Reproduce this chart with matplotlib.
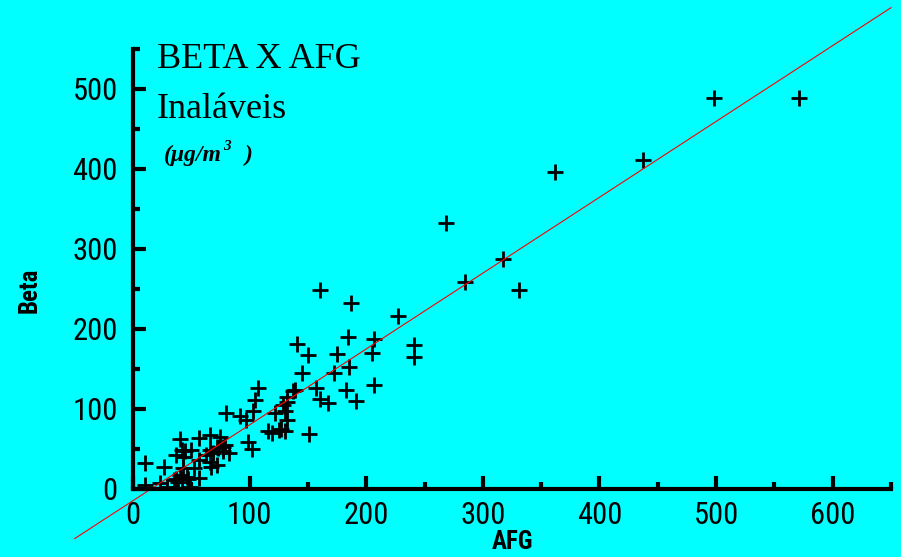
import numpy as np
import matplotlib
matplotlib.use("Agg")
import matplotlib.pyplot as plt
from matplotlib.ticker import MultipleLocator
from matplotlib import font_manager as fm

# AFG (x) and Beta (y) readings, ug/m3
afg = [498, 571, 437, 362, 268, 317, 285, 331, 160, 187, 227, 184, 207, 241, 241,
       141, 150, 175, 205, 145, 172, 185, 107, 105, 103, 139, 157, 183, 207, 160,
       167, 191, 132, 129, 137, 132, 151, 116, 119, 125, 127, 130, 122, 130, 132,
       80, 92, 97, 99, 102, 40, 57, 66, 75, 79, 73, 77, 82, 69, 63,
       42, 45, 50, 37, 43, 66, 72, 77, 10, 27, 57, 66, 72, 67, 52,
       43, 40, 37, 42, 46, 35, 39, 57, 10, 23, 29, 49, 47]
beta = [489, 489, 411, 396, 332, 287, 259, 249, 249, 233, 216, 190, 188, 180, 165,
        181, 168, 169, 170, 145, 145, 152, 126, 111, 97, 124, 126, 124, 130, 113,
        107, 110, 115, 105, 122, 109, 69, 72, 70, 74, 75, 72, 95, 97, 86,
        95, 91, 86, 59, 50, 63, 64, 68, 65, 55, 51, 47, 45, 45, 43,
        49, 47, 49, 43, 40, 49, 53, 53, 33, 27, 36, 34, 30, 28, 26,
        26, 18, 13, 13, 15, 11, 9, 14, 5, 7, 3, 2, 13]

# regression line
slope = 0.948
intercept = -14.6
line_x = np.array([-50, 650])

bg = "#00FFFF"

# look for a narrow sans face, else plain Liberation Sans
names = {f.name for f in fm.fontManager.ttflist}
narrow = "Liberation Sans"
stretch = "normal"
for cand in ["Liberation Sans Narrow", "Roboto Condensed", "Open Sans Condensed",
             "DejaVu Sans Condensed"]:
    if cand in names:
        narrow = cand
        break
else:
    for f in fm.fontManager.ttflist:
        if f.name in ("Roboto", "DejaVu Sans", "Open Sans") and f.stretch in (
                "condensed", "semi-condensed", 75, 87.5) or "Condensed" in f.fname:
            narrow = f.name
            stretch = "condensed"
            break

fig = plt.figure(figsize=(9.01, 5.57), dpi=100, facecolor=bg)
ax = fig.add_axes([0.1476, 0.1221, 0.8413, 0.790])
ax.set_facecolor(bg)

ax.plot(afg, beta, "+", color="black", ms=11, mew=2)
ax.plot(line_x, slope * line_x + intercept, color="red", lw=0.8, clip_on=False)

ax.set_xlim(0, 650)
ax.set_ylim(0, 550)
ax.xaxis.set_major_locator(MultipleLocator(100))
ax.xaxis.set_minor_locator(MultipleLocator(50))
ax.yaxis.set_major_locator(MultipleLocator(100))
ax.yaxis.set_minor_locator(MultipleLocator(50))

for s in ["top", "right"]:
    ax.spines[s].set_visible(False)
for s in ["left", "bottom"]:
    ax.spines[s].set_linewidth(3)

ax.tick_params(which="major", direction="in", length=9.5, width=3)
ax.tick_params(which="minor", direction="in", length=5, width=3)
ax.tick_params(axis="x", which="major", pad=9)
ax.tick_params(axis="y", which="major", pad=11)
for lab in ax.get_xticklabels() + ax.get_yticklabels():
    lab.set_family(narrow)
    lab.set_stretch(stretch)
    lab.set_fontsize(22)

fig.text(512 / 901, 1 - 542 / 557, "AFG", family=narrow, stretch=stretch,
         fontweight="bold", fontsize=18, ha="center", va="center")
fig.text(30 / 901, 1 - 290 / 557, "Beta", family=narrow, stretch=stretch,
         fontweight="bold", fontsize=18, ha="center", va="center", rotation=90)

serif = ["Liberation Serif", "DejaVu Serif"]
fig.text(157 / 901, 1 - 68 / 557, "BETA X AFG", family=serif, fontsize=26,
         va="baseline")
fig.text(157 / 901, 1 - 118 / 557, "Inaláveis", family=serif, fontsize=26,
         va="baseline")
unit = dict(family=serif, fontsize=17, fontweight="bold", fontstyle="italic",
            va="baseline")
t = fig.text(164 / 901, 1 - 161 / 557, "(μg/m", **unit)
bb = t.get_window_extent(renderer=fig.canvas.get_renderer())
fig.text((bb.x1 + 1) / 901, 1 - 150 / 557, "3", **dict(unit, fontsize=11))
fig.text(245 / 901, 1 - 161 / 557, ")", **unit)

fig.savefig("out.png", dpi=100, facecolor=bg)
